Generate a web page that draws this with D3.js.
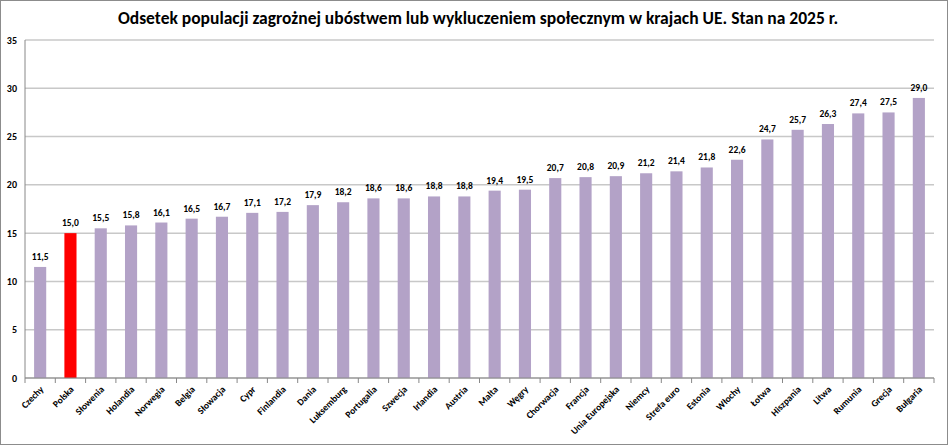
<!DOCTYPE html>
<html><head><meta charset="utf-8">
<script src="https://cdn.jsdelivr.net/npm/d3@7"></script>
<style>body{margin:0;background:#fff}svg{display:block;font-family:Calibri,"Liberation Sans",Arial,sans-serif}</style>
</head><body><svg id="c" width="948" height="445"></svg>
<script>
const categories=["Czechy","Polska","Słowenia","Holandia","Norwegia","Belgia","Słowacja","Cypr","Finlandia","Dania","Luksemburg","Portugalia","Szwecja","Irlandia","Austria","Malta","Węgry","Chorwacja","Francja","Unia Europejska","Niemcy","Strefa euro","Estonia","Włochy","Łotwa","Hiszpania","Litwa","Rumunia","Grecja","Bułgaria"];
const values=[11.5,15.0,15.5,15.8,16.1,16.5,16.7,17.1,17.2,17.9,18.2,18.6,18.6,18.8,18.8,19.4,19.5,20.7,20.8,20.9,21.2,21.4,21.8,22.6,24.7,25.7,26.3,27.4,27.5,29.0];
const yTicks=[0,5,10,15,20,25,30,35];
const title="Odsetek populacji zagrożnej ubóstwem lub wykluczeniem społecznym w krajach  UE. Stan na 2025 r.";
const svg=d3.select("#c");
svg.append("rect").attr("x",0.5).attr("y",0.5).attr("width",947).attr("height",444).attr("fill","#fff").attr("stroke","#8c8c8c");
const x=d3.scaleBand().domain(categories).range([25,934]).paddingInner(0.6).paddingOuter(0.3);
const y=d3.scaleLinear().domain([0,35]).range([378,40]);
const fmt=v=>v.toFixed(1).replace(".",",");
svg.append("text").attr("x",478).attr("y",24).attr("text-anchor","middle").attr("font-size",17.5).attr("font-weight","bold").text(title);
const g=svg.append("g");
g.selectAll("line.grid").data(yTicks).join("line").attr("x1",25).attr("x2",934).attr("y1",d=>y(d)).attr("y2",d=>y(d)).attr("stroke","#c8c8c8").attr("stroke-width",1.5);
g.selectAll("text.yt").data(yTicks).join("text").attr("x",17).attr("y",d=>y(d)+3.5).attr("text-anchor","end").attr("font-size",10).attr("font-weight","bold").text(d=>d);
g.selectAll("rect.bar").data(values).join("rect").attr("x",(d,i)=>x(categories[i])).attr("width",x.bandwidth()).attr("y",d=>y(d)).attr("height",d=>y(0)-y(d)).attr("fill",(d,i)=>categories[i]==="Polska"?"#ff0000":"#b3a2c7");
g.selectAll("text.val").data(values).join("text").attr("x",(d,i)=>x(categories[i])+x.bandwidth()/2).attr("y",d=>y(d)-7).attr("text-anchor","middle").attr("font-size",9.5).attr("font-weight","bold").text(fmt);
g.append("line").attr("x1",25).attr("x2",25).attr("y1",40).attr("y2",378).attr("stroke","#888");
g.append("line").attr("x1",25).attr("x2",934).attr("y1",378).attr("y2",378).attr("stroke","#888");
const step=x.step();
g.selectAll("line.tk").data(d3.range(categories.length+1)).join("line").attr("x1",d=>25+d*step).attr("x2",d=>25+d*step).attr("y1",378).attr("y2",383).attr("stroke","#888");
g.selectAll("text.cat").data(categories).join("text").attr("transform",d=>`translate(${x(d)+x.bandwidth()/2+4},${390}) rotate(-45)`).attr("text-anchor","end").attr("font-size",9.5).attr("font-weight","bold").text(d=>d);
</script></body></html>
